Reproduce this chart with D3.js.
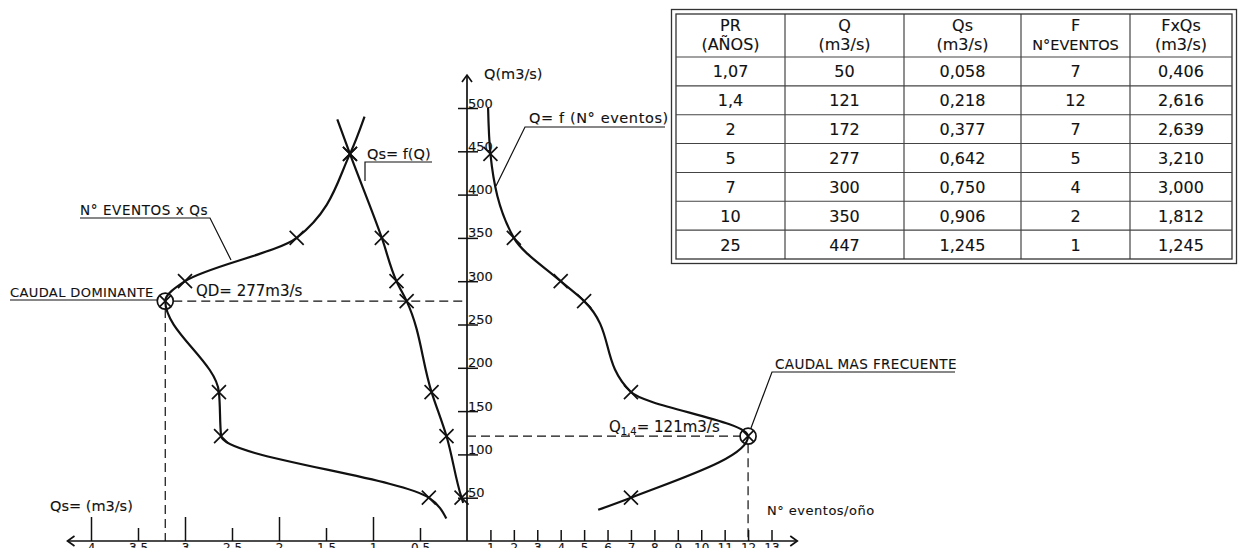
<!DOCTYPE html>
<html>
<head>
<meta charset="utf-8">
<script src="https://cdn.jsdelivr.net/npm/d3@7"></script>
<style>
body{margin:0;background:#fff;}
svg{display:block;font-family:"DejaVu Sans",sans-serif;}
svg text{stroke:#111;stroke-width:0.12px;}
</style>
</head>
<body>
<div id="chart"></div>
<script>
// table values
var returnPeriods = ["1,07","1,4","2","5","7","10","25"];
var flows = [50,121,172,277,300,350,447];
var sediment = [0.058,0.218,0.377,0.642,0.750,0.906,1.245];
var events = [7,12,7,5,4,2,1];
var eventsXsed = [0.406,2.616,2.639,3.210,3.000,1.812,1.245];
var headers = [["PR","(AÑOS)"],["Q","(m3/s)"],["Qs","(m3/s)"],["F","N°EVENTOS"],["FxQs","(m3/s)"]];
var tableRows = [returnPeriods, flows, sediment, events, eventsXsed];

// axis ticks
var qTicks = [50,100,150,200,250,300,350,400,450,500];
var qsTicks = [0.5,1,1.5,2,2.5,3,3.5,4];
var nTicks = [1,2,3,4,5,6,7,8,9,10,11,12,13];

// where the drawn curves stop [x value, Q]
var sedEnds = [[0.04,44],[1.38,487]];
var fxEnds = [[0.22,26],[1.09,490]];
var evEnds = [[5.6,36],[0.9,500]];

var W = 1243, H = 548;
var svg = d3.select("#chart").append("svg").attr("width",W).attr("height",H);
svg.append("rect").attr("width",W).attr("height",H).attr("fill","#fff");

var y = d3.scaleLinear().domain([0,500]).range([541,108]);
var xQs = d3.scaleLinear().domain([0,4]).range([467,91]);
var xN = d3.scaleLinear().domain([0,13]).range([467,771.5]);

var ink = "#111";

// ---- axes ----
var g = svg.append("g").attr("stroke",ink).attr("fill","none");
g.append("line").attr("x1",xQs(4.25)).attr("x2",xN(14.1)).attr("y1",y(0)).attr("y2",y(0)).attr("stroke-width",1.7);
g.append("line").attr("x1",xQs(0)).attr("x2",xQs(0)).attr("y1",y(0)).attr("y2",y(538)).attr("stroke-width",1.7);
// arrow heads
g.append("path").attr("stroke-width",1.7)
  .attr("d","M"+(xQs(4.25)+7)+","+(y(0)-5)+"L"+xQs(4.25)+","+y(0)+"L"+(xQs(4.25)+7)+","+(y(0)+5));
g.append("path").attr("stroke-width",1.7)
  .attr("d","M"+(xN(14.1)-7)+","+(y(0)-5)+"L"+xN(14.1)+","+y(0)+"L"+(xN(14.1)-7)+","+(y(0)+5));
g.append("path").attr("stroke-width",1.7)
  .attr("d","M"+(xQs(0)-5)+","+(y(538)+7)+"L"+xQs(0)+","+y(538)+"L"+(xQs(0)+5)+","+(y(538)+7));

// Qs axis (left, reversed)
var axQs = d3.axisBottom(xQs).tickValues(qsTicks).tickSizeInner(-13).tickSizeOuter(0).tickPadding(2)
  .tickFormat(function(d){ return d; });
var gQs = svg.append("g").attr("transform","translate(0,"+y(0)+")").call(axQs);
gQs.select(".domain").remove();
gQs.selectAll(".tick line").attr("stroke",ink).attr("stroke-width",1.5)
  .attr("y2",function(d){ return d%1===0 ? -24 : -13; });
gQs.selectAll(".tick text").attr("fill",ink).style("font-size","12px").style("font-family","DejaVu Sans");

// N axis (right)
var axN = d3.axisBottom(xN).tickValues(nTicks).tickSizeInner(-11).tickSizeOuter(0).tickPadding(2);
var gN = svg.append("g").attr("transform","translate(0,"+y(0)+")").call(axN);
gN.select(".domain").remove();
gN.selectAll(".tick line").attr("stroke",ink).attr("stroke-width",1.5);
gN.selectAll(".tick text").attr("fill",ink).style("font-size","12px").style("font-family","DejaVu Sans");

// Q axis (vertical)
var axQ = d3.axisRight(y).tickValues(qTicks).tickSizeInner(11).tickSizeOuter(0).tickPadding(2);
var gQ = svg.append("g").attr("transform","translate("+xQs(0)+",0)").call(axQ);
gQ.select(".domain").remove();
gQ.selectAll(".tick line").attr("stroke",ink).attr("stroke-width",1.5).attr("x1",-9);
gQ.selectAll(".tick text").attr("fill",ink).attr("dy","-1").attr("x",1)
  .style("font-size","13px").style("font-family","DejaVu Sans");

// ---- dashed guide lines ----
var iDom = eventsXsed.indexOf(d3.max(eventsXsed));
var iFreq = events.indexOf(d3.max(events));
var dash = svg.append("g").attr("stroke",ink).attr("stroke-width",1.2).attr("stroke-dasharray","9,5");
dash.append("line").attr("x1",xQs(eventsXsed[iDom])+8).attr("x2",xQs(0))
  .attr("y1",y(flows[iDom])).attr("y2",y(flows[iDom]));
dash.append("line").attr("x1",xQs(eventsXsed[iDom])).attr("x2",xQs(eventsXsed[iDom]))
  .attr("y1",y(flows[iDom])+8).attr("y2",y(0));
dash.append("line").attr("x1",xN(0)).attr("x2",xN(events[iFreq])-8)
  .attr("y1",y(flows[iFreq])).attr("y2",y(flows[iFreq]));
dash.append("line").attr("x1",xN(events[iFreq])).attr("x2",xN(events[iFreq]))
  .attr("y1",y(flows[iFreq])+8).attr("y2",y(0));

// ---- curves ----
function series(vals, ends){
  var pts = flows.map(function(q,i){ return [vals[i], q]; });
  pts = [ends[0]].concat(pts).concat([ends[1]]);
  return pts.sort(function(a,b){ return b[1]-a[1]; });
}
function drawCurve(pts, xs){
  var line = d3.line().x(function(d){ return xs(d[0]); }).y(function(d){ return y(d[1]); })
    .curve(d3.curveMonotoneY);
  svg.append("path").attr("d",line(pts)).attr("fill","none").attr("stroke",ink).attr("stroke-width",2.2);
}
drawCurve(series(sediment, sedEnds), xQs);
drawCurve(series(eventsXsed, fxEnds), xQs);
drawCurve(series(events, evEnds), xN);

// markers
function drawMarks(vals, xs, special){
  var m = svg.append("g").attr("stroke",ink).attr("fill","none").attr("stroke-width",1.7);
  flows.forEach(function(q,i){
    var px = xs(vals[i]), py = y(q);
    var s = i===special ? 5.5 : 7;
    m.append("path").attr("d","M"+(px-s)+","+(py-s)+"L"+(px+s)+","+(py+s)+"M"+(px-s)+","+(py+s)+"L"+(px+s)+","+(py-s));
    if(i===special) m.append("circle").attr("cx",px).attr("cy",py).attr("r",8);
  });
}
drawMarks(sediment, xQs, -1);
drawMarks(eventsXsed, xQs, iDom);
drawMarks(events, xN, iFreq);

// ---- annotations ----
var ann = svg.append("g").attr("fill",ink).style("stroke-width","0.25px");
var lead = svg.append("g").attr("stroke",ink).attr("stroke-width",1.2).attr("fill","none");

function label(txt, x, yy, size, ls){
  return ann.append("text").attr("x",x).attr("y",yy).style("font-size",size+"px")
    .style("letter-spacing",(ls||0)+"px").text(txt);
}
label("Qs=  f(Q)", 367, 159, 14.5);
lead.append("path").attr("d","M432,162H365V181");
label("N° EVENTOS x Qs", 80, 215, 13.5, 0.6);
lead.append("path").attr("d","M80,218H210L231,260");
label("CAUDAL DOMINANTE", 10, 297, 13, 0.4);
lead.append("path").attr("d","M10,300H157");
label("QD= 277m3/s", 196, 296, 15);
label("Q= f (N° eventos)", 529, 123, 14.5, 0.6);
lead.append("path").attr("d","M665,127H525L496,186");
label("CAUDAL MAS FRECUENTE", 775, 369, 13.5, 0.4);
lead.append("path").attr("d","M955,372H772L751,428");
var qf = ann.append("text").attr("x",609).attr("y",y(flows[iFreq])-4).style("font-size","15px");
qf.append("tspan").text("Q");
qf.append("tspan").attr("dy",3).style("font-size","10px").text("1,4");
qf.append("tspan").attr("dy",-3).text("= 121m3/s");
label("N° eventos/oño", 767, 515, 13, 0.5);
label("Qs= (m3/s)", 50, 511, 14.5);
label("Q(m3/s)", 484, 79, 14.5);

// ---- table ----
var colX = [676,785,904,1021,1130,1232];
var tTop = 14, headBot = 57, tBot = 259;
var rowH = (tBot-headBot)/flows.length;
var tb = svg.append("g");
tb.append("rect").attr("x",671.5).attr("y",9.5).attr("width",565).attr("height",254)
  .attr("fill","none").attr("stroke","#333").attr("stroke-width",1.3);
tb.append("rect").attr("x",colX[0]).attr("y",tTop).attr("width",colX[5]-colX[0]).attr("height",tBot-tTop)
  .attr("fill","none").attr("stroke","#333").attr("stroke-width",1.3);
colX.slice(1,5).forEach(function(cx){
  tb.append("line").attr("x1",cx).attr("x2",cx).attr("y1",tTop).attr("y2",tBot).attr("stroke","#333").attr("stroke-width",1.1);
});
d3.range(flows.length).forEach(function(r){
  var ly = headBot + r*rowH;
  tb.append("line").attr("x1",colX[0]).attr("x2",colX[5]).attr("y1",ly).attr("y2",ly).attr("stroke","#444").attr("stroke-width",1.1);
});
var fmt3 = function(v){ return v.toFixed(3).replace(".",","); };
headers.forEach(function(h,c){
  var cx = (colX[c]+colX[c+1])/2;
  tb.append("text").attr("x",cx).attr("y",31).attr("text-anchor","middle").attr("fill",ink)
    .style("font-size", "16px").text(h[0]);
  tb.append("text").attr("x",cx).attr("y",50).attr("text-anchor","middle").attr("fill",ink)
    .style("font-size", c===3 ? "14.5px" : "16px").text(h[1]);
  tableRows[c].forEach(function(v,r){
    var s = (c===2 || c===4) ? fmt3(v) : String(v);
    tb.append("text").attr("x",cx).attr("y",headBot + r*rowH + rowH/2 + 6).attr("text-anchor","middle")
      .attr("fill",ink).style("font-size","16px").text(s);
  });
});
</script>
</body>
</html>
